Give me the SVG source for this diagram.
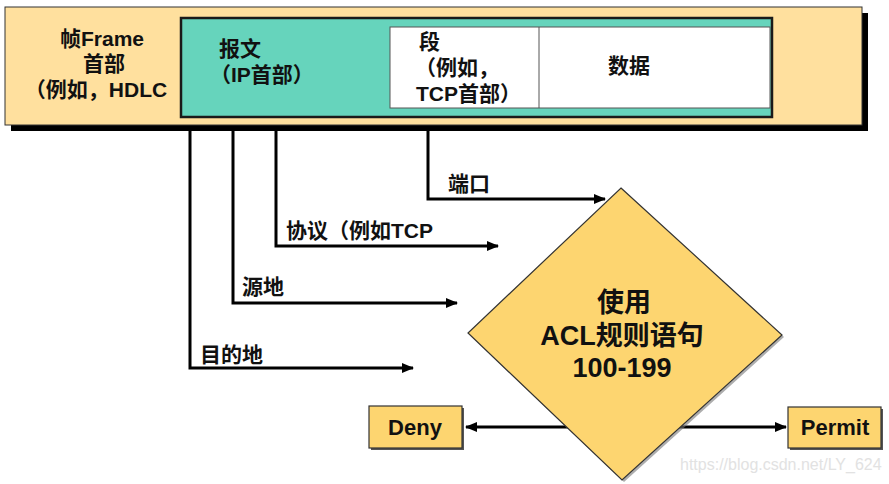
<svg xmlns="http://www.w3.org/2000/svg" width="889" height="484" viewBox="0 0 889 484">
<style>
text{font-family:"Liberation Sans","Noto Sans CJK SC",sans-serif;font-weight:bold;fill:#111}
.t21{font-size:21px}
.lb{font-size:21px}
.t27{font-size:27px}
.t22{font-size:22px}
.c{text-anchor:middle}
.ln{fill:none;stroke:#000;stroke-width:3}
.gold{fill:#FDD570;stroke:#333;stroke-width:1.2}
</style>
<defs>
<marker id="ah" viewBox="0 0 12 10" refX="11" refY="5" markerWidth="12" markerHeight="10" markerUnits="userSpaceOnUse" orient="auto">
<path d="M0,0 L12,5 L0,10 Z" fill="#000"/>
</marker>
</defs>
<rect width="889" height="484" fill="#fff"/>

<g id="connectors">
<path class="ln" d="M428,128 V199 H605" marker-end="url(#ah)"/>
<path class="ln" d="M276,128 V246 H498" marker-end="url(#ah)"/>
<path class="ln" d="M233,128 V303 H457" marker-end="url(#ah)"/>
<path class="ln" d="M190,128 V368 H413" marker-end="url(#ah)"/>
<path class="ln" d="M600,427 H466" marker-end="url(#ah)"/>
<path class="ln" d="M650,427 H786" marker-end="url(#ah)"/>
<text class="lb" x="448" y="191">端口</text>
<text class="lb" x="286" y="238">协议（例如TCP</text>
<text class="lb" x="242" y="294">源地</text>
<text class="lb" x="200" y="362">目的地</text>
</g>

<g id="frame">
<rect x="11" y="13" width="857" height="118" fill="#000"/>
<rect x="5" y="7" width="857" height="118" fill="#FFE09E" stroke="#333" stroke-width="1"/>
<text class="t21 c" x="102" y="46">帧Frame</text>
<text class="t21 c" x="104" y="71">首部</text>
<text class="t21 c" x="96" y="97">（例如，HDLC</text>
</g>

<g id="packet">
<rect x="181" y="18" width="591" height="99" fill="#66D4BC" stroke="#1a1a1a" stroke-width="2.5"/>
<text class="t21" x="219" y="56">报文</text>
<text class="t21" x="210" y="82">（IP首部）</text>
</g>

<g id="segment">
<rect x="390" y="27" width="380" height="81" fill="#fff" stroke="#555" stroke-width="1"/>
<line x1="539" y1="27" x2="539" y2="108" stroke="#555" stroke-width="1"/>
<text class="t21" x="419" y="49">段</text>
<text class="t21" x="415" y="75">（例如，</text>
<text class="t21" x="416" y="101">TCP首部）</text>
</g>

<g id="data">
<text class="t21 c" x="629" y="73">数据</text>
</g>

<g id="acl">
<polygon points="623,190 784,337 624,482 470,335" fill="#777" opacity="0.6"/>
<polygon class="gold" points="621,188 782,335 622,480 468,333"/>
<text class="t27 c" x="624" y="312">使用</text>
<text class="t27 c" x="622" y="345">ACL规则语句</text>
<text class="t27 c" x="622" y="377">100-199</text>
</g>

<g id="deny">
<rect x="371" y="408" width="93" height="42" fill="#555"/>
<rect class="gold" x="369" y="406" width="93" height="42"/>
<text class="t22 c" x="415" y="435">Deny</text>
</g>

<g id="permit">
<rect x="790" y="409" width="93" height="41" fill="#555"/>
<rect class="gold" x="788" y="407" width="93" height="41"/>
<text class="t22 c" x="835" y="435">Permit</text>
</g>

<text x="680" y="470" style="font-weight:normal;font-size:16px;fill:#e2e2e2">https://blog.csdn.net/LY_624</text>
</svg>
